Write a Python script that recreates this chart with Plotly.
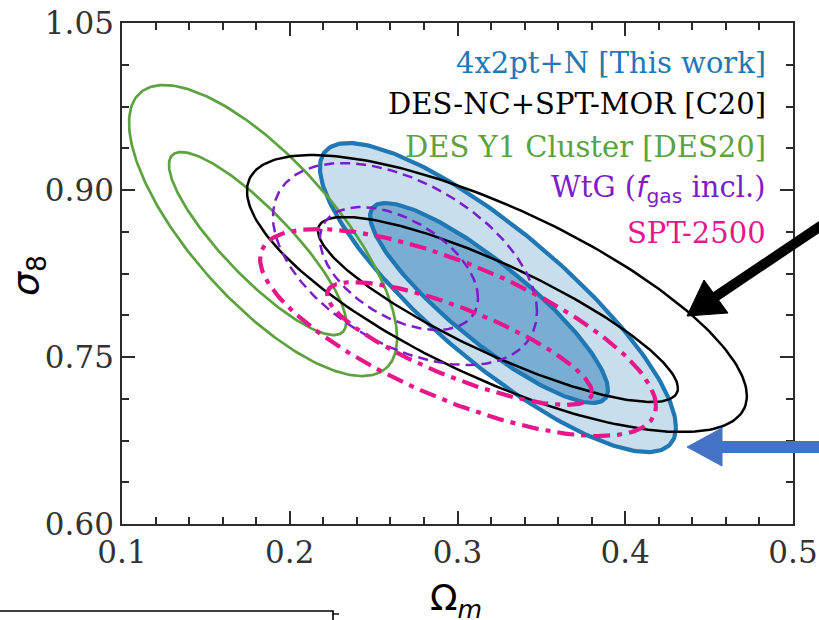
import numpy as np
import plotly.graph_objects as go

# Confidence contours in the (Omega_m, sigma_8) plane.
# Each contour: centre, half-extent along each axis and the correlation
# that sets its tilt (68% = inner, 95% = outer).
contour_names = [
    "DES Y1 Cluster 95", "DES Y1 Cluster 68",
    "DES-NC+SPT-MOR 95", "DES-NC+SPT-MOR 68",
    "WtG 95", "WtG 68",
    "SPT-2500 95", "SPT-2500 68",
    "4x2pt+N 95", "4x2pt+N 68",
]
om_centre = [0.1841, 0.1808, 0.3235, 0.3241, 0.2687, 0.2651, 0.3003, 0.3012, 0.3241, 0.3188]
s8_centre = [0.8636, 0.8519, 0.8070, 0.7927, 0.8335, 0.8295, 0.7720, 0.7621, 0.8034, 0.7985]
om_half = [0.0799, 0.0528, 0.1490, 0.1073, 0.0787, 0.0471, 0.1180, 0.0790, 0.1061, 0.0709]
s8_half = [0.1307, 0.0822, 0.1244, 0.0831, 0.0907, 0.0552, 0.0930, 0.0552, 0.1388, 0.0898]
corr = [-0.74, -0.86, -0.74, -0.85, -0.47, -0.48, -0.71, -0.80, -0.84, -0.87]

legend_labels = [
    "4x2pt+N [This work]",
    "DES-NC+SPT-MOR [C20]",
    "DES Y1 Cluster [DES20]",
    "WtG (<span style='font-family:DejaVu Sans'><i>f</i><sub>gas</sub></span> incl.)",
    "SPT-2500",
]

x_range = [0.1, 0.5]
y_range = [0.60, 1.05]
x_major, x_minor = 0.1, 0.02
y_major, y_minor = 0.15, 0.0375

BLUE = "#1f77b4"
BLACK = "#000000"
GREEN = "#5ca23e"
PURPLE = "#7d1ccb"
PINK = "#e6178a"
legend_colors = [BLUE, BLACK, GREEN, PURPLE, PINK]

styles = {
    "DES Y1 Cluster": dict(color=GREEN, width=2.7, dash="solid"),
    "DES-NC+SPT-MOR": dict(color=BLACK, width=2.5, dash="solid"),
    "WtG": dict(color=PURPLE, width=2.5, dash="10px,6px"),
    "SPT-2500": dict(color=PINK, width=4.2, dash="17px,7px,5px,7px"),
    "4x2pt+N": dict(color=BLUE, width=4.2, dash="solid"),
}
fills = {"4x2pt+N 95": "rgba(31,119,180,0.24)", "4x2pt+N 68": "rgba(31,119,180,0.47)"}


def ellipse(i, n=240):
    t = np.linspace(0, 2 * np.pi, n)
    r = corr[i]
    x = om_centre[i] + om_half[i] * np.cos(t)
    y = s8_centre[i] + s8_half[i] * (r * np.cos(t) + np.sqrt(1 - r * r) * np.sin(t))
    return x, y


fig = go.Figure()

# filled contours first, then the line contours on top
order = [8, 9, 0, 1, 2, 3, 4, 5, 6, 7]
for i in order:
    name = contour_names[i]
    key = name.rsplit(" ", 1)[0]
    st = styles[key]
    x, y = ellipse(i)
    kw = {}
    if name in fills:
        kw = dict(fill="toself", fillcolor=fills[name])
    fig.add_trace(go.Scatter(
        x=x, y=y, mode="lines", name=name, showlegend=False, hoverinfo="skip",
        line=dict(color=st["color"], width=st["width"], dash=st["dash"]), **kw,
    ))

# empty trace that carries the top / right tick axes
fig.add_trace(go.Scatter(x=[None], y=[None], xaxis="x2", yaxis="y2", showlegend=False,
                         hoverinfo="skip"))

# plot-area geometry in pixels (for items drawn outside the axes)
W, H = 819, 620
L, R, T, B = 122, 26, 23, 96
PW, PH = W - L - R, H - T - B


def px(xp):
    return (xp - L) / PW


def py(yp):
    return (H - B - yp) / PH


# legend text, right-aligned inside the axes
legend_y = [63, 104, 147, 189, 233]
for lab, col, yy in zip(legend_labels, legend_colors, legend_y):
    fig.add_annotation(
        text=lab, xref="paper", yref="paper", x=px(768), y=py(yy),
        xanchor="right", yanchor="middle", showarrow=False,
        font=dict(family="DejaVu Serif", size=29, color=col),
    )

# axis titles
fig.add_annotation(
    text="<i>σ</i><sub>8</sub>", xref="paper", yref="paper", x=px(27), y=py(276),
    xanchor="center", yanchor="middle", textangle=-90, showarrow=False,
    font=dict(family="DejaVu Sans", size=38, color="#000"),
)
fig.add_annotation(
    text="Ω<sub><i>m</i></sub>", xref="paper", yref="paper", x=px(456), y=py(600),
    xanchor="center", yanchor="middle", showarrow=False,
    font=dict(family="DejaVu Sans", size=36, color="#000"),
)

shapes = []
# black arrow
shapes.append(dict(type="line", xref="paper", yref="paper",
                   x0=px(840), y0=py(213), x1=px(712), y1=py(299),
                   line=dict(color="black", width=10)))
shapes.append(dict(type="path", xref="paper", yref="paper",
                   path=f"M {px(687)},{py(316)} L {px(704)},{py(280)} L {px(728)},{py(313)} Z",
                   fillcolor="black", line=dict(color="black", width=1)))
# blue arrow
ARROW_BLUE = "#4472c4"
shapes.append(dict(type="line", xref="paper", yref="paper",
                   x0=px(840), y0=py(447), x1=px(720), y1=py(447),
                   line=dict(color=ARROW_BLUE, width=12)))
shapes.append(dict(type="path", xref="paper", yref="paper",
                   path=f"M {px(687)},{py(447)} L {px(722)},{py(428)} L {px(722)},{py(466)} Z",
                   fillcolor=ARROW_BLUE, line=dict(color=ARROW_BLUE, width=1)))
# corner of the neighbouring panel below
shapes.append(dict(type="path", xref="paper", yref="paper",
                   path=f"M {px(-5)},{py(611)} L {px(333)},{py(611)} L {px(333)},{py(630)}",
                   line=dict(color="black", width=1.6)))
shapes.append(dict(type="line", xref="paper", yref="paper",
                   x0=px(333), y0=py(614), x1=px(339), y1=py(614),
                   line=dict(color="black", width=1.4)))

AX = "#2b2b2b"
tickfont = dict(family="DejaVu Serif", size=31, color="#333333")
xminor = dict(ticks="inside", ticklen=7, tickwidth=1.6, tickcolor=AX, dtick=x_minor)
yminor = dict(ticks="inside", ticklen=7, tickwidth=1.6, tickcolor=AX, dtick=y_minor)
common = dict(showgrid=False, zeroline=False, showline=True, linecolor=AX, linewidth=1.8,
              ticks="inside", ticklen=13, tickwidth=1.8, tickcolor=AX, automargin=False,
              tickmode="linear")
xcommon = dict(range=x_range, tick0=x_range[0], dtick=x_major, minor=xminor, **common)
ycommon = dict(range=y_range, tick0=y_range[0], dtick=y_major, minor=yminor, **common)

fig.update_layout(
    width=W, height=H, margin=dict(l=L, r=R, t=T, b=B),
    paper_bgcolor="white", plot_bgcolor="white",
    shapes=shapes,
    xaxis=dict(tickfont=tickfont, tickformat=".1f", mirror=True, **xcommon),
    yaxis=dict(tickfont=tickfont, tickformat=".2f", mirror=True, **ycommon),
    xaxis2=dict(overlaying="x", side="top", anchor="y", showticklabels=False, **xcommon),
    yaxis2=dict(overlaying="y", side="right", anchor="x", showticklabels=False, **ycommon),
)

fig.write_html("out.html")
